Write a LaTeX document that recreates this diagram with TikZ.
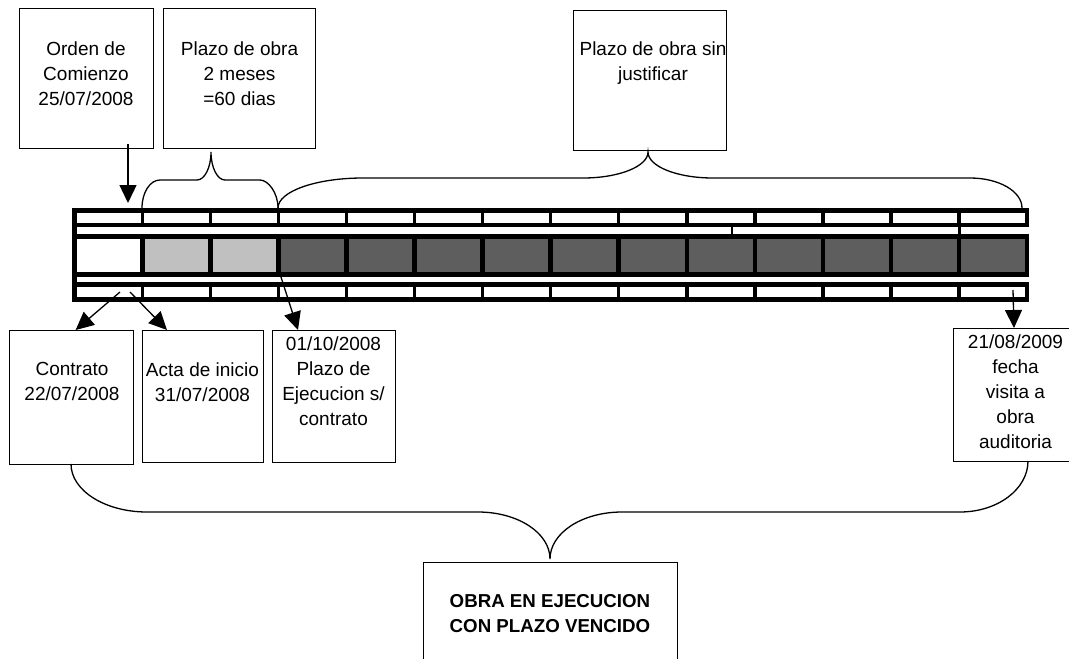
\documentclass[tikz,border=0pt]{standalone}
\usepackage{fontspec}
\setmainfont{Liberation Sans}
\usetikzlibrary{arrows.meta}
\definecolor{lgray}{HTML}{C0C0C0}
\definecolor{dgray}{HTML}{5E5E5E}
\begin{document}
\begin{tikzpicture}[x=1pt,y=-1pt,
  box/.style={draw, line width=1.3pt, inner sep=0pt, anchor=north west},
  txt/.style={align=center, inner sep=0pt, anchor=north, font=\fontsize{19}{25}\selectfont},
  arr/.style={line width=1.3pt, -{Triangle[length=18pt,width=17pt]}},
  brace/.style={line width=1.3pt},
  barline/.style={line width=4.6pt},
  divthin/.style={line width=3.4pt},
  divthick/.style={line width=4.6pt},
  tick/.style={line width=2.5pt}]
\useasboundingbox (0,0) rectangle (1069,659);
\clip (0,0) rectangle (1069,659);

% ---- boxes ----
\node[box, minimum width=134pt, minimum height=140pt] (orden) at (19,8) {};
\node[box, minimum width=152pt, minimum height=140pt] (plazo) at (163,8) {};
\node[box, minimum width=153pt, minimum height=140pt] (sin) at (573,10) {};
\node[box, minimum width=124pt, minimum height=134pt] (contrato) at (9,330) {};
\node[box, minimum width=121pt, minimum height=132pt] (acta) at (142,330) {};
\node[box, minimum width=123pt, minimum height=132pt] (ejec) at (272,330) {};
\node[box, minimum width=125pt, minimum height=133pt] (fecha) at (953,328) {};
\node[box, minimum width=254pt, minimum height=130pt] (obra) at (423,562) {};

% ---- texts ----
\node[txt] (tOrden) at (86,41.4) {Orden de\\Comienzo\\25/07/2008};
\node[txt] (tPlazo) at (239.5,41.4) {Plazo de obra\\2 meses\\=60 dias};
\node[txt] (tSin) at (653,41.4) {Plazo de obra sin\\justificar};
\node[txt] (tContrato) at (72,362.4) {Contrato\\22/07/2008};
\node[txt] (tActa) at (202.5,362.4) {Acta de inicio\\31/07/2008};
\node[txt] (tEjec) at (333.5,336.4) {01/10/2008\\Plazo de\\Ejecucion s/\\contrato};
\node[txt] (tFecha) at (1015.5,334.4) {21/08/2009\\fecha\\visita a\\obra\\auditoria};
\node[txt, font=\fontsize{18.7}{25}\selectfont\bfseries] (tObra) at (550,594.5) {OBRA EN EJECUCION\\CON PLAZO VENCIDO};

% ---- timeline bar ----
\foreach \k in {1,2} {
  \fill[lgray] (74.5+\k*68.036,236.7) rectangle (74.5+\k*68.036+68.036,274.3);
}
\foreach \k in {3,...,13} {
  \fill[dgray] (74.5+\k*68.036,236.7) rectangle (74.5+\k*68.036+68.036,274.3);
}
\draw[barline] (74.5,210.3) rectangle (1027,225);
\draw[barline] (74.5,236.7) rectangle (1027,274.3);
\draw[barline] (74.5,284.5) rectangle (1027,299.6);
\draw[barline] (74.5,208) -- (74.5,302);
\foreach \k in {1,...,13} {
  \draw[divthin] (74.5+\k*68.036,210.3) -- (74.5+\k*68.036,225);
  \draw[divthick] (74.5+\k*68.036,236.7) -- (74.5+\k*68.036,274.3);
  \draw[divthin] (74.5+\k*68.036,284.5) -- (74.5+\k*68.036,299.6);
}
\draw[tick] (732,227) -- (732,235);
\draw[tick] (959.5,227) -- (959.5,235);

% ---- arrows ----
\coordinate (ordenT) at (128,203);
\coordinate (c1) at (120,292);
\coordinate (c2) at (130,292);
\coordinate (c3) at (281,277);
\coordinate (c4) at (1013,290);
\draw[arr] ([yshift=5pt]orden.south -| ordenT) -- (ordenT);
\draw[arr] (c1) -- ([xshift=4pt]contrato.north);
\draw[arr] (c2) -- ([xshift=25pt]acta.north west);
\draw[arr] (c3) -- ([xshift=26pt]ejec.north west);
\draw[arr] (c4) -- ([xshift=61pt]fecha.north west);

% ---- braces ----
\draw[brace] (142,208) .. controls (142,192.5) and (150,180) .. (160,180) -- (197,180)
  .. controls (204.7,180) and (211,167.5) .. (211,152)
  .. controls (211,167.5) and (217.3,180) .. (225,180) -- (260,180)
  .. controls (268,180) and (278,192.5) .. (278,208);
\draw[brace] (278,208) .. controls (278,191.4) and (316,178) .. (363,178) -- (583,178)
  .. controls (619,178) and (648,166.4) .. (648,152)
  .. controls (648,166.4) and (677,178) .. (713,178) -- (970,178)
  .. controls (999,178) and (1022,191.4) .. (1022,208);
\draw[brace] (71,464) .. controls (71,490.5) and (105,512) .. (147,512) -- (478,512)
  .. controls (518,512) and (550,533) .. (550,559)
  .. controls (550,533) and (582,512) .. (622,512) -- (960,512)
  .. controls (997.5,512) and (1028,489.2) .. (1028,461);
\end{tikzpicture}
\end{document}
